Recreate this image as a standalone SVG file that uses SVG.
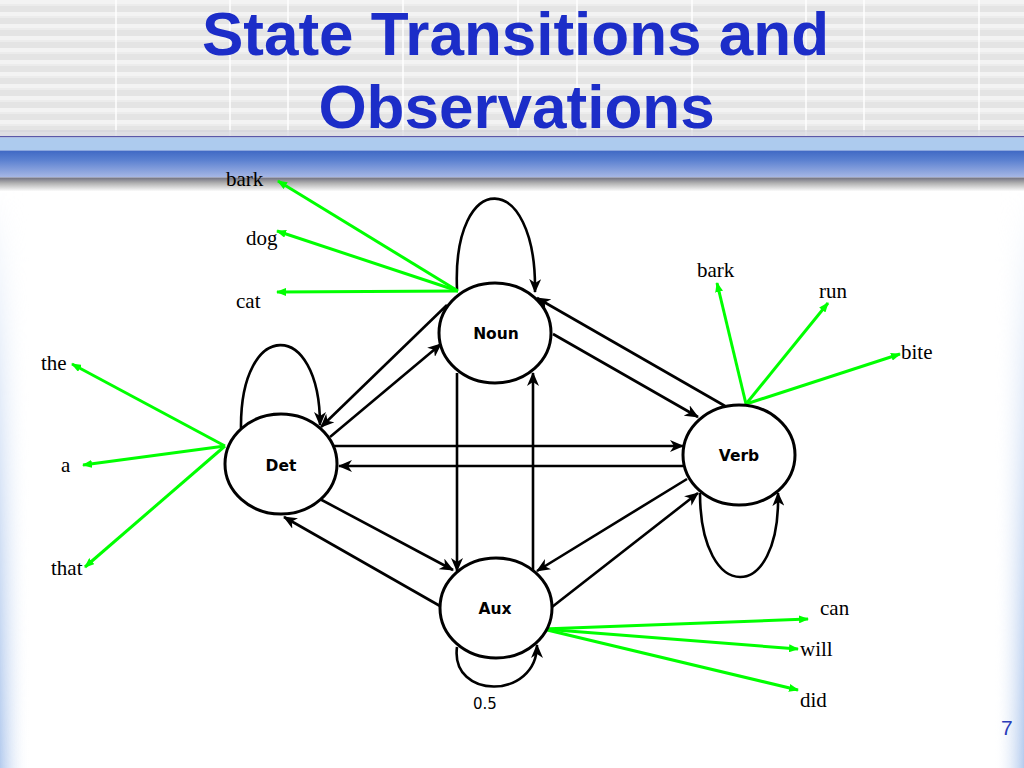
<svg xmlns="http://www.w3.org/2000/svg" width="1024" height="768" viewBox="0 0 1024 768">
  <defs>
    <style>
      .title { font-family: "Liberation Sans", Arial, sans-serif; font-weight: bold; font-size: 62px; fill: #1c2dc8; text-anchor: middle; }
      .node ellipse { fill: #ffffff; stroke: #000000; stroke-width: 3; }
      .node text { font-family: "DejaVu Sans", Verdana, sans-serif; font-weight: bold; font-size: 15.5px; fill: #000; text-anchor: middle; }
      .edge { fill: none; stroke: #000000; stroke-width: 2.6; marker-end: url(#arrB); }
      .emit { fill: none; stroke: #00ff00; stroke-width: 3; marker-end: url(#arrG); }
      .word { font-family: "Liberation Serif", "Times New Roman", serif; font-size: 21px; fill: #000; }
      .num { font-family: "DejaVu Sans", sans-serif; font-size: 15px; fill: #000; }
      .vline { stroke: #ffffff; stroke-width: 1.5; }
    </style>
    <marker id="arrB" viewBox="0 0 14 12" refX="13" refY="6" markerWidth="14" markerHeight="12" markerUnits="userSpaceOnUse" orient="auto">
      <path d="M0,0 L14,6 L0,12 L4,6 z" fill="#000"/>
    </marker>
    <marker id="arrG" viewBox="0 0 10 8" refX="9" refY="4" markerWidth="10" markerHeight="8" markerUnits="userSpaceOnUse" orient="auto">
      <path d="M0,0 L10,4 L0,8 z" fill="#00ff00"/>
    </marker>
    <pattern id="stripes" x="0" y="0" width="1024" height="12" patternUnits="userSpaceOnUse">
      <rect x="0" y="0" width="1024" height="12" fill="#e4e4e4"/>
      <rect x="0" y="0" width="1024" height="4" fill="#f3f3f3"/>
      <rect x="0" y="4" width="1024" height="2" fill="#ececec"/>
    </pattern>
    <linearGradient id="barG" x1="0" y1="0" x2="0" y2="1">
      <stop offset="0" stop-color="#3f68c4"/>
      <stop offset="0.35" stop-color="#5a80d0"/>
      <stop offset="1" stop-color="#a8b8e6"/>
    </linearGradient>
    <linearGradient id="shadowG" x1="0" y1="0" x2="0" y2="1">
      <stop offset="0" stop-color="#707080"/>
      <stop offset="0.4" stop-color="#b0b0b0"/>
      <stop offset="1" stop-color="#ffffff"/>
    </linearGradient>
    <linearGradient id="leftG" x1="0" y1="0" x2="1" y2="0">
      <stop offset="0" stop-color="#b4cbee"/>
      <stop offset="1" stop-color="#ffffff" stop-opacity="0"/>
    </linearGradient>
    <linearGradient id="rightG" x1="1" y1="0" x2="0" y2="0">
      <stop offset="0" stop-color="#b4cbee"/>
      <stop offset="1" stop-color="#ffffff" stop-opacity="0"/>
    </linearGradient>
    <linearGradient id="fadeV" x1="0" y1="0" x2="0" y2="1">
      <stop offset="0" stop-color="#fff" stop-opacity="0"/>
      <stop offset="1" stop-color="#fff" stop-opacity="1"/>
    </linearGradient>
    <mask id="fadeMask">
      <rect x="0" y="190" width="1024" height="578" fill="url(#fadeV)"/>
    </mask>
  </defs>

  <!-- background -->
  <rect x="0" y="0" width="1024" height="768" fill="#ffffff"/>
  <g mask="url(#fadeMask)">
    <rect x="0" y="190" width="30" height="578" fill="url(#leftG)"/>
    <rect x="994" y="190" width="30" height="578" fill="url(#rightG)"/>
  </g>
  <rect x="0" y="0" width="1024" height="137" fill="url(#stripes)"/>
  <g class="vline">
    <line x1="116" y1="0" x2="116" y2="137"/>
    <line x1="230" y1="0" x2="230" y2="137"/>
    <line x1="288" y1="0" x2="288" y2="137"/>
    <line x1="403" y1="0" x2="403" y2="137"/>
    <line x1="518" y1="0" x2="518" y2="137"/>
    <line x1="577" y1="0" x2="577" y2="137"/>
    <line x1="692" y1="0" x2="692" y2="137"/>
    <line x1="806" y1="0" x2="806" y2="137"/>
    <line x1="864" y1="0" x2="864" y2="137"/>
    <line x1="979" y1="0" x2="979" y2="137"/>
  </g>
  <rect x="0" y="130" width="1024" height="7" fill="#d0d0d8" opacity="0.6"/>
  <rect x="0" y="136" width="1024" height="1.5" fill="#5a58a8"/>
  <rect x="0" y="137.5" width="1024" height="13" fill="#adcbee"/>
  <rect x="0" y="150.5" width="1024" height="27" fill="url(#barG)"/>
  <rect x="0" y="177.5" width="1024" height="14" fill="url(#shadowG)"/>

  <!-- title -->
  <text class="title" x="515.5" y="55">State Transitions and</text>
  <text class="title" x="516.5" y="128">Observations</text>

  <!-- connectors -->
  <g id="connectors">
    <!-- self loops -->
    <path class="edge" d="M457,289 C452,168 537,168 535,292"/>
    <path class="edge" d="M241,428 C240,318 320,318 320,425"/>
    <path class="edge" d="M700,493 C700,605 781,605 778,493"/>
    <path class="edge" d="M457,647 C450,700 537,700 537,645"/>
    <!-- Noun <-> Det -->
    <path class="edge" d="M447,305 L321,427"/>
    <path class="edge" d="M330,437 L441,344"/>
    <!-- Det <-> Verb -->
    <path class="edge" d="M329,446 L683,446"/>
    <path class="edge" d="M683,466 L339,466"/>
    <!-- Noun <-> Aux -->
    <path class="edge" d="M457,373 L457,571"/>
    <path class="edge" d="M533,571 L533,373"/>
    <!-- Noun <-> Verb -->
    <path class="edge" d="M553,334 L698,417"/>
    <path class="edge" d="M725,406 L537,298"/>
    <!-- Det <-> Aux -->
    <path class="edge" d="M318,498 L453,570"/>
    <path class="edge" d="M440,606 L284,517"/>
    <!-- Verb <-> Aux -->
    <path class="edge" d="M687,479 L537,571"/>
    <path class="edge" d="M552,607 L698,493"/>

    <!-- emissions -->
    <path class="emit" d="M458,291 L278,181"/>
    <path class="emit" d="M458,291 L277,231"/>
    <path class="emit" d="M458,291 L277,292"/>
    <path class="emit" d="M225,446 L72,364"/>
    <path class="emit" d="M225,446 L83,465"/>
    <path class="emit" d="M225,446 L85,567"/>
    <path class="emit" d="M746,404 L717,283"/>
    <path class="emit" d="M746,404 L828,303"/>
    <path class="emit" d="M746,404 L900,354"/>
    <path class="emit" d="M543,629 L808,619"/>
    <path class="emit" d="M543,629 L798,649"/>
    <path class="emit" d="M543,629 L798,690"/>
  </g>

  <!-- nodes -->
  <g id="node-noun" class="node">
    <ellipse cx="495" cy="333" rx="56" ry="50"/>
    <text x="496" y="339">Noun</text>
  </g>
  <g id="node-det" class="node">
    <ellipse cx="281" cy="464" rx="56" ry="50"/>
    <text x="281" y="471">Det</text>
  </g>
  <g id="node-verb" class="node">
    <ellipse cx="739" cy="455" rx="56" ry="50"/>
    <text x="739" y="461">Verb</text>
  </g>
  <g id="node-aux" class="node">
    <ellipse cx="496" cy="608" rx="56" ry="50"/>
    <text x="495" y="614">Aux</text>
  </g>

  <!-- observation words -->
  <g id="words">
    <text class="word" x="226" y="186">bark</text>
    <text class="word" x="246" y="245">dog</text>
    <text class="word" x="236" y="308">cat</text>
    <text class="word" x="41" y="370">the</text>
    <text class="word" x="61" y="472">a</text>
    <text class="word" x="51" y="575">that</text>
    <text class="word" x="697" y="277">bark</text>
    <text class="word" x="819" y="298">run</text>
    <text class="word" x="901" y="359">bite</text>
    <text class="word" x="820" y="615">can</text>
    <text class="word" x="800" y="656">will</text>
    <text class="word" x="800" y="707">did</text>
  </g>
  <text class="num" x="473" y="709">0.5</text>
  <text x="1001" y="735" style="font-family: 'Liberation Sans', Arial, sans-serif; font-size: 21px; fill: #2a3bb8;">7</text>
</svg>
